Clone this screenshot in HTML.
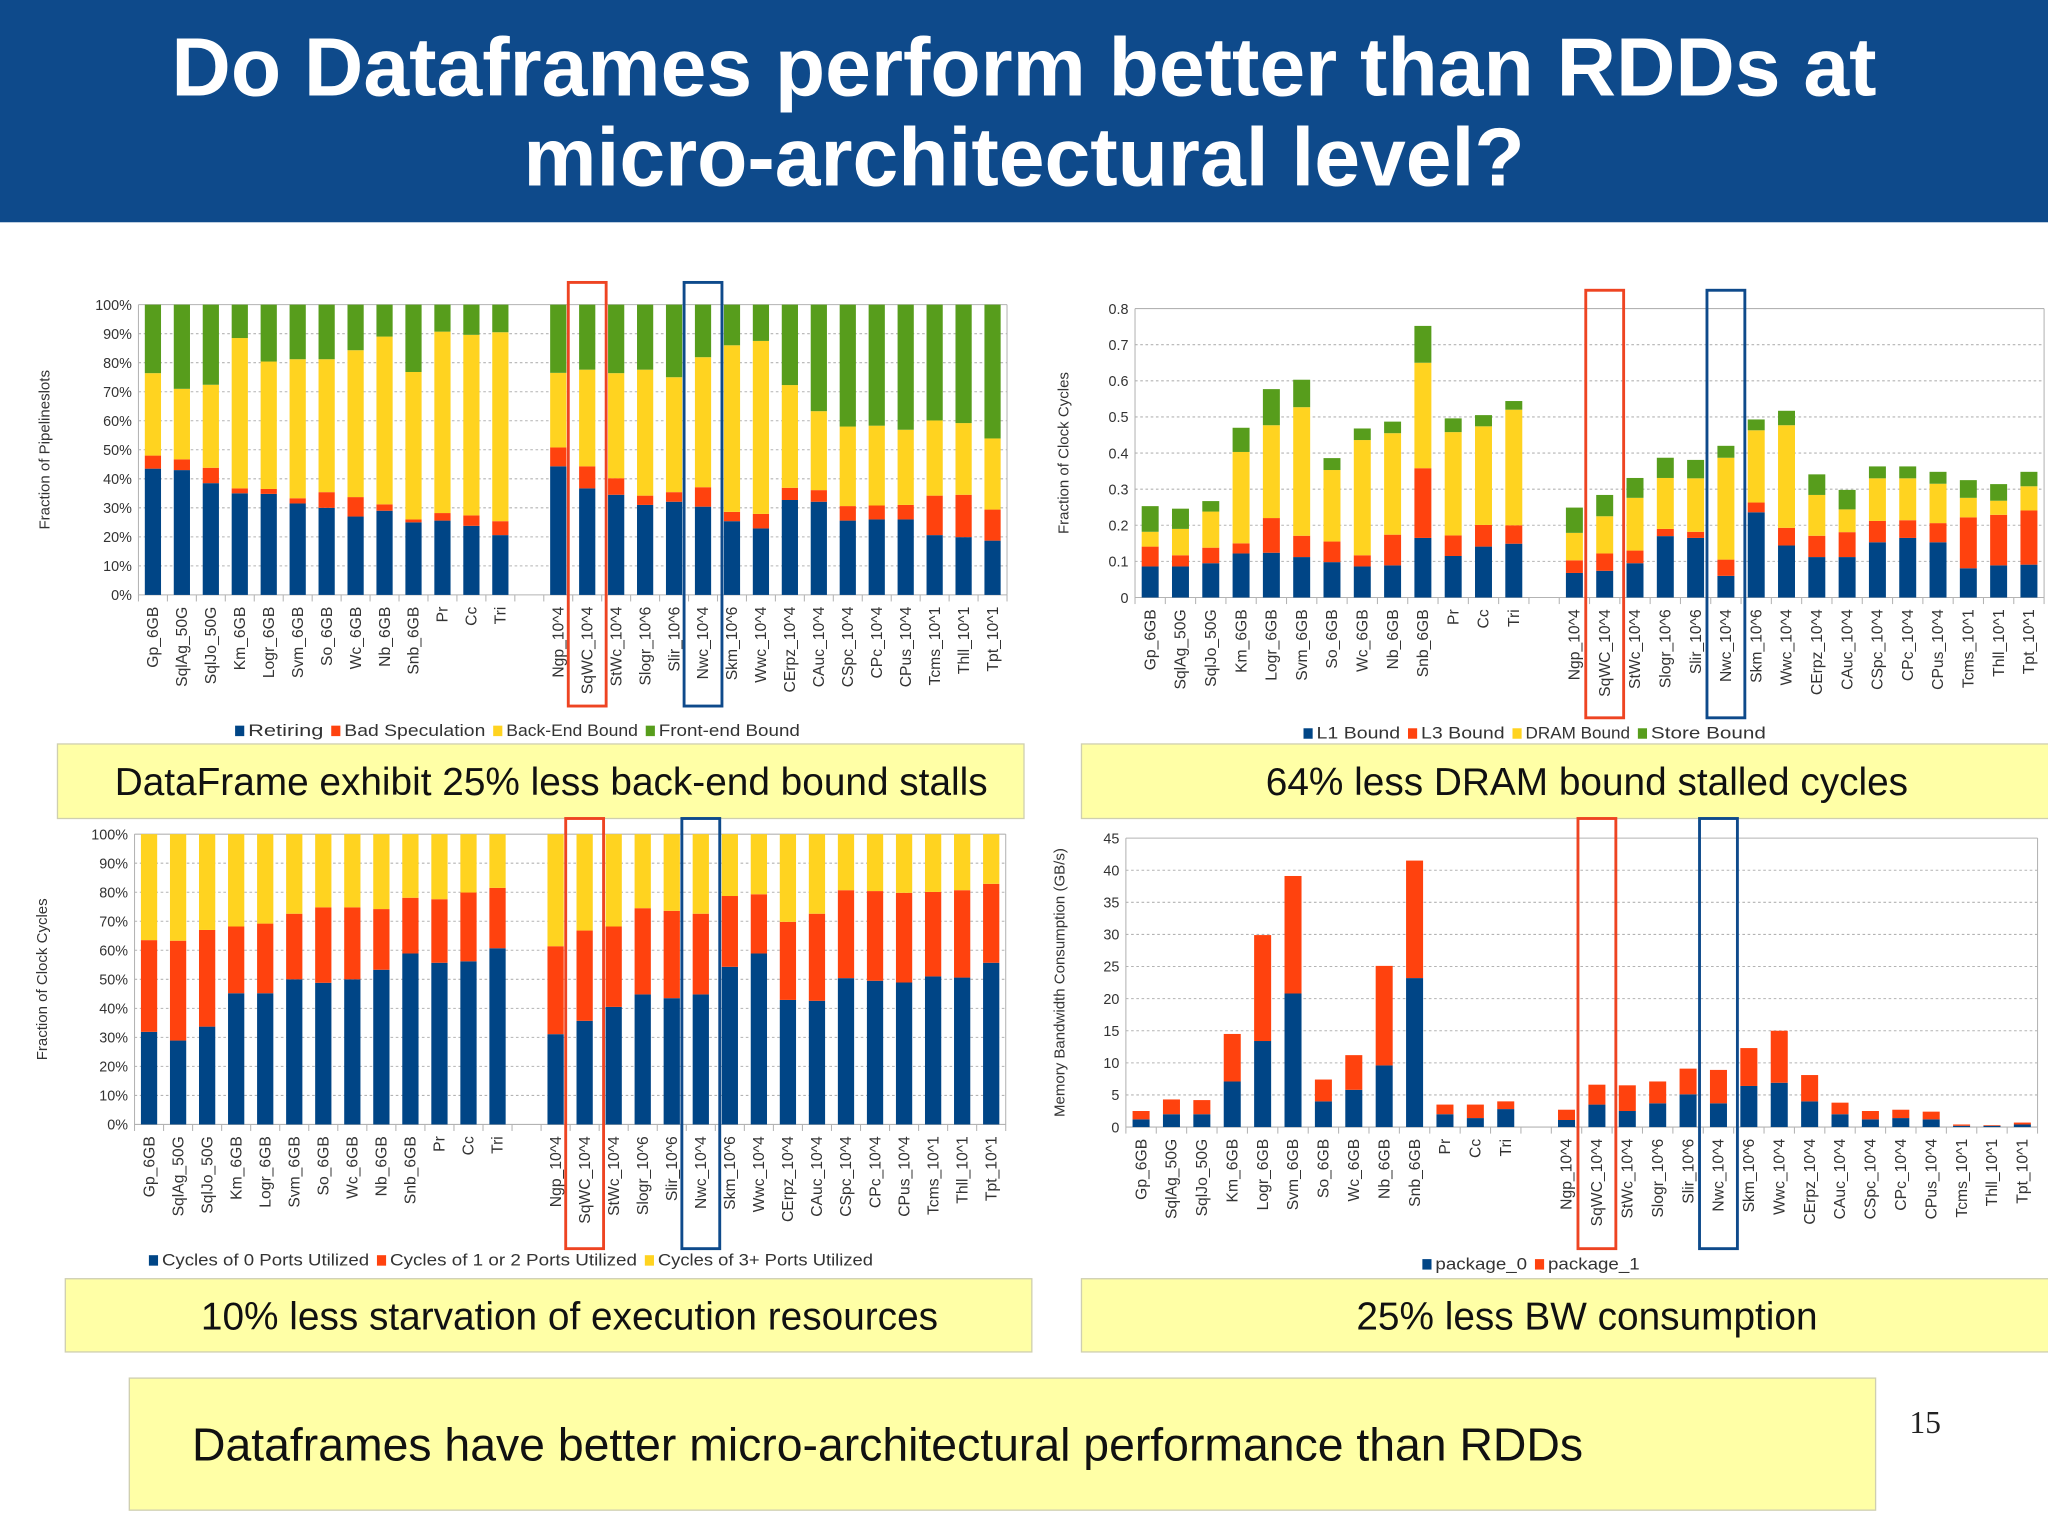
<!DOCTYPE html>
<html><head><meta charset="utf-8"><style>
html,body{margin:0;padding:0;background:#fff;}
svg{display:block;}
text{font-family:"Liberation Sans",sans-serif;}
</style></head><body>
<svg id="slide" width="2048" height="1535" viewBox="0 0 1568 1174" preserveAspectRatio="none" xmlns="http://www.w3.org/2000/svg">
<rect x="0" y="0" width="1568" height="1174" fill="#ffffff"/>
<rect x="0" y="0" width="1568" height="170" fill="#0e4a8b"/>
<text x="784" y="73" text-anchor="middle" font-size="63" font-weight="bold" fill="#fff">Do Dataframes perform better than RDDs at</text>
<text x="784" y="142" text-anchor="middle" font-size="63" font-weight="bold" fill="#fff">micro-architectural level?</text>

<rect x="44" y="569" width="740" height="57" fill="#ffffa6" stroke="#cfcfb0"/>
<text x="422" y="608" text-anchor="middle" font-size="29.7" fill="#111">DataFrame exhibit 25% less back-end bound stalls</text>
<rect x="828" y="569" width="745" height="57" fill="#ffffa6" stroke="#cfcfb0"/>
<text x="1215" y="608" text-anchor="middle" font-size="29.7" fill="#111">64% less DRAM bound stalled cycles</text>
<rect x="50" y="978" width="740" height="56" fill="#ffffa6" stroke="#cfcfb0"/>
<text x="436" y="1017" text-anchor="middle" font-size="29.7" fill="#111">10% less starvation of execution resources</text>
<rect x="828" y="978" width="745" height="56" fill="#ffffa6" stroke="#cfcfb0"/>
<text x="1215" y="1017" text-anchor="middle" font-size="29.7" fill="#111">25% less BW consumption</text>
<rect x="99" y="1054" width="1337" height="101" fill="#ffffa6" stroke="#cfcfb0"/>
<text x="147" y="1117" font-size="35.5" fill="#111">Dataframes have better micro-architectural performance than RDDs</text>
<text x="1462" y="1096" font-size="24" fill="#222" style="font-family:'Liberation Serif',serif">15</text>
<g id="charts"></g>
</svg>
<script>
const categories = ["Gp_6GB","SqlAg_50G","SqlJo_50G","Km_6GB","Logr_6GB","Svm_6GB","So_6GB","Wc_6GB","Nb_6GB","Snb_6GB","Pr","Cc","Tri","","Ngp_10^4","SqWC_10^4","StWc_10^4","Slogr_10^6","Slir_10^6","Nwc_10^4","Skm_10^6","Wwc_10^4","CErpz_10^4","CAuc_10^4","CSpc_10^4","CPc_10^4","CPus_10^4","Tcms_10^1","Thll_10^1","Tpt_10^1"];
// Chart 1 (percent)
const c1Retiring = [43.5,43,38.5,35,34.8,31.5,30,27,29,25,25.6,23.8,20.6,null,44.3,36.7,34.5,31,32.1,30.4,25.4,22.9,32.7,32.1,25.6,26,26,20.6,19.9,18.7];
const c1BadSpec = [4.5,3.7,5.3,1.7,1.7,1.8,5.4,6.7,2.2,1,2.6,3.6,4.8,null,6.5,7.6,5.7,3.2,3.3,6.7,3.2,5,4.2,4,5,4.8,5,13.6,14.6,10.7];
const c1BackEnd = [28.4,24.3,28.6,51.8,43.9,47.9,45.8,50.6,57.8,50.8,62.5,62.2,65.1,null,25.7,33.3,36.2,43.4,39.6,44.8,57.4,59.6,35.4,27.2,27.4,27.5,25.9,25.9,24.7,24.5];
const c1FrontEnd = [23.6,29,27.6,11.5,19.6,18.8,18.8,15.7,11,23.2,9.3,10.4,9.5,null,23.5,22.4,23.6,22.4,25,18.1,14,12.5,27.7,36.7,42,41.7,43.1,39.9,40.8,46.1];
const c1Ticks = ["0%","10%","20%","30%","40%","50%","60%","70%","80%","90%","100%"];
// Chart 2 (fraction of clock cycles)
const c2L1 = [.086,.086,.095,.122,.124,.112,.098,.086,.089,.165,.115,.141,.149,null,.068,.074,.095,.17,.165,.06,.236,.144,.112,.112,.153,.165,.153,.081,.089,.091];
const c2L3 = [.055,.031,.043,.028,.096,.059,.057,.031,.085,.193,.057,.06,.051,null,.035,.048,.035,.02,.017,.045,.027,.049,.059,.069,.059,.049,.053,.141,.14,.15];
const c2DRAM = [.041,.073,.1,.253,.257,.356,.198,.319,.281,.292,.286,.273,.32,null,.076,.103,.146,.141,.148,.282,.2,.284,.113,.063,.118,.116,.109,.054,.039,.067];
const c2Store = [.071,.056,.029,.067,.1,.076,.033,.032,.032,.102,.038,.031,.024,null,.07,.059,.055,.056,.051,.033,.03,.04,.057,.054,.033,.033,.033,.049,.046,.04];
const c2Ticks = ["0","0.1","0.2","0.3","0.4","0.5","0.6","0.7","0.8"];
// Chart 3 (percent)
const c3Ports0 = [31.9,28.9,33.7,45.2,45.2,50,48.8,50,53.3,58.9,55.7,56.2,60.7,null,31.1,35.7,40.5,44.8,43.5,44.8,54.3,58.9,42.9,42.6,50.4,49.5,48.9,51,50.6,55.7];
const c3Ports12 = [31.6,34.4,33.3,23,24,22.6,26,24.8,20.9,19.2,21.9,23.7,20.8,null,30.3,31.1,27.7,29.7,30.1,27.8,24.4,20.4,26.9,30,30.3,30.9,30.9,29.1,30.1,27.2];
const c3Ports3 = [36.5,36.7,33,31.8,30.8,27.4,25.2,25.2,25.8,21.9,22.4,20.1,18.5,null,38.6,33.2,31.8,25.5,26.4,27.4,21.3,20.7,30.2,27.4,19.3,19.6,20.2,19.9,19.3,17.1];
const c3Ticks = ["0%","10%","20%","30%","40%","50%","60%","70%","80%","90%","100%"];
// Chart 4 (GB/s)
const c4Pkg0 = [1.2,2,2,7.1,13.4,20.8,4,5.8,9.6,23.2,2,1.4,2.8,null,1.1,3.5,2.5,3.7,5.1,3.7,6.4,6.9,4,2,1.2,1.4,1.2,0.2,0.2,0.4];
const c4Pkg1 = [1.3,2.3,2.2,7.4,16.5,18.3,3.4,5.4,15.5,18.3,1.5,2.1,1.2,null,1.6,3.1,4,3.4,4,5.2,5.9,8.1,4.1,1.8,1.3,1.3,1.2,0.2,0.1,0.3];
const c4Ticks = ["0","5","10","15","20","25","30","35","40","45"];

const NS = "http://www.w3.org/2000/svg";
const root = document.getElementById("charts");
const COL = {blue:"#004586", red:"#ff420e", yellow:"#ffd320", green:"#579d1c"};
function mk(tag, attrs, parent){ const e=document.createElementNS(NS,tag); for(const k in attrs) e.setAttribute(k,attrs[k]); (parent||root).appendChild(e); return e; }

function drawChart(cfg){
  const g = mk("g",{});
  
  
  const n = categories.length;
  const slot = cfg.pw / n;
  const xc = i => cfg.px + slot*(i+0.5);
  const ys = v => cfg.py + cfg.ph - (v/cfg.max)*cfg.ph;
  cfg.ticks.forEach((t,i)=>{
    const v = cfg.max*i/(cfg.ticks.length-1);
    const y = ys(v);
    const ln = mk("line",{x1:cfg.px,x2:cfg.px+cfg.pw,y1:y,y2:y,stroke:"#b3b3b3","stroke-width":0.8,"stroke-dasharray":(i===0||i===cfg.ticks.length-1)?"":"2,2"},g);
    
    
    const tx = mk("text",{x:cfg.px-5,y:y+4,"text-anchor":"end","font-size":11,fill:"#333"},g);
    
    
    tx.textContent = t;
  });
  mk("line",{x1:cfg.px,x2:cfg.px,y1:cfg.py,y2:cfg.py+cfg.ph,stroke:"#b3b3b3","stroke-width":0.8},g);
  mk("line",{x1:cfg.px+cfg.pw,x2:cfg.px+cfg.pw,y1:cfg.py,y2:cfg.py+cfg.ph,stroke:"#b3b3b3","stroke-width":0.8},g);
  for(let i=0;i<=n;i++){
    mk("line",{x1:cfg.px+slot*i,x2:cfg.px+slot*i,y1:cfg.py+cfg.ph,y2:cfg.py+cfg.ph+5,stroke:"#b3b3b3","stroke-width":0.8},g);
  }
  const yt = mk("text",{x:0,y:0,"text-anchor":"middle","font-size":11.5,fill:"#333",transform:`translate(${cfg.tx},${cfg.py+cfg.ph/2}) rotate(-90)`},g);
  
  
  yt.textContent = cfg.title;
  const bw = slot*0.56;
  categories.forEach((c,i)=>{
    if(!c) return;
    let base = 0;
    cfg.series.forEach(s=>{
      const v = s.data[i];
      const r = mk("rect",{x:xc(i)-bw/2,y:ys(base+v),width:bw,height:Math.max(0,ys(base)-ys(base+v)),fill:s.color},g);
      
      
      base += v;
    });
    const lb = mk("text",{x:0,y:0,"text-anchor":"end","font-size":12,fill:"#333",transform:`translate(${xc(i)+4},${cfg.py+cfg.ph+9}) rotate(-90)`},g);
    
    
    lb.textContent = c;
  });
  [[15,"#ee4422"],[19,"#0e4a8b"]].forEach(([i,col])=>{
    const hb = mk("rect",{x:xc(i)-14.5,y:cfg.hy,width:29,height:cfg.hh,fill:"none",stroke:col,"stroke-width":2.2},g);
    
    
  });
  let lx = cfg.lx;
  cfg.series.forEach(s=>{
    const sw = mk("rect",{x:lx,y:cfg.ly-8,width:7,height:8,fill:s.color},g);
    
    
    const t = mk("text",{x:lx+10,y:cfg.ly,"font-size":12.5,fill:"#333",textLength:s.label.length*cfg.cw,lengthAdjust:"spacingAndGlyphs"},g);
    
    
    t.textContent = s.label;
    lx += 10 + s.label.length*cfg.cw + 6;
  });
}

drawChart({name:"pipeline-slots-chart",px:106,py:233,pw:665,ph:222,max:100,ticks:c1Ticks,tx:38,title:"Fraction of Pipelineslots",hy:216,hh:324,lx:180,ly:563,cw:7.2,
  series:[{data:c1Retiring,color:COL.blue,label:"Retiring"},{data:c1BadSpec,color:COL.red,label:"Bad Speculation"},{data:c1BackEnd,color:COL.yellow,label:"Back-End Bound"},{data:c1FrontEnd,color:COL.green,label:"Front-end Bound"}]});
drawChart({name:"memory-bound-chart",px:869,py:236,pw:696,ph:221,max:0.8,ticks:c2Ticks,tx:818,title:"Fraction of Clock Cycles",hy:222,hh:327,lx:998,ly:565,cw:8.0,
  series:[{data:c2L1,color:COL.blue,label:"L1 Bound"},{data:c2L3,color:COL.red,label:"L3 Bound"},{data:c2DRAM,color:COL.yellow,label:"DRAM Bound"},{data:c2Store,color:COL.green,label:"Store Bound"}]});
drawChart({name:"port-utilization-chart",px:103,py:638,pw:667,ph:222,max:100,ticks:c3Ticks,tx:36,title:"Fraction of Clock Cycles",hy:626,hh:329,lx:114,ly:968,cw:6.1,
  series:[{data:c3Ports0,color:COL.blue,label:"Cycles of 0 Ports Utilized"},{data:c3Ports12,color:COL.red,label:"Cycles of 1 or 2 Ports Utilized"},{data:c3Ports3,color:COL.yellow,label:"Cycles of 3+ Ports Utilized"}]});
drawChart({name:"bandwidth-chart",px:862,py:641,pw:698,ph:221,max:45,ticks:c4Ticks,tx:815,title:"Memory Bandwidth Consumption (GB/s)",hy:626,hh:329,lx:1089,ly:971,cw:7.8,
  series:[{data:c4Pkg0,color:COL.blue,label:"package_0"},{data:c4Pkg1,color:COL.red,label:"package_1"}]});
</script>
</body></html>
